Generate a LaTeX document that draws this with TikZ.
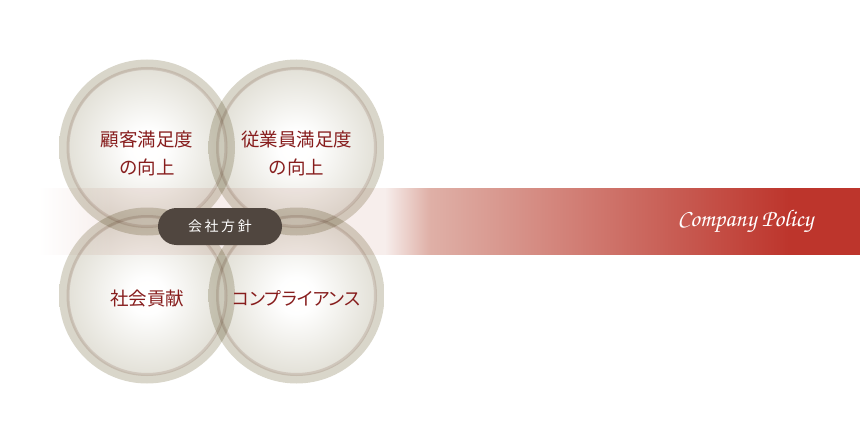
\documentclass[tikz,border=0pt]{standalone}
\usepackage{fontspec}
\newfontfamily\jp{Noto Sans CJK JP}
\newfontfamily\jpprop[RawFeature=+palt]{Noto Sans CJK JP}
\newfontfamily\jpwide[LetterSpace=18]{Noto Sans CJK JP}
\newcommand{\policyfont}{\fontencoding{OT1}\fontfamily{pzc}\fontseries{mb}\fontshape{it}\selectfont}
\definecolor{discband}{HTML}{D9D6CA}
\definecolor{discedge}{HTML}{E3E1D8}
\definecolor{ringcol}{HTML}{E9E1DE}
\definecolor{bandpale}{HTML}{F7EEEC}
\definecolor{bandmid}{HTML}{DFB0A7}
\definecolor{bandred}{HTML}{BD352C}
\definecolor{policytext}{HTML}{871D1D}
\definecolor{pillcol}{HTML}{50463F}
\pgfdeclareradialshading{disc}{\pgfpoint{0bp}{0bp}}{color(0bp)=(white); color(5bp)=(white!98!discedge); color(22.4bp)=(discedge); color(22.5bp)=(discband); color(25bp)=(discband); color(50bp)=(discband)}
\pgfdeclarehorizontalshading{bandshade}{100bp}{color(0bp)=(white); color(25bp)=(white); color(29.4bp)=(bandpale); color(46.1bp)=(bandpale); color(48.8bp)=(bandmid); color(70.7bp)=(bandred); color(100bp)=(bandred)}
\begin{document}
\begin{tikzpicture}[x=1pt,y=-1pt,
    ring/.style={draw=ringcol,line width=3pt,blend mode=multiply},
    circtext/.style={text=policytext,font=\jp\fontsize{18.5}{28}\selectfont,align=center,inner sep=0pt},
    pill/.style={fill=pillcol,text=white,rounded corners=18.5pt,minimum width=124pt,minimum height=37pt,
      font=\jpwide\fontsize{14}{16}\selectfont,inner sep=0pt}]
  \useasboundingbox (0,0) rectangle (860,444);
  % band behind the circles
  \shade[shading=bandshade,blend mode=multiply] (38,188) rectangle (860,254);
  % the four circles
  \foreach \cx/\cy/\name in {147/147.5/kokyaku,296.5/147.5/jugyoin,147/295.5/shakai,296.5/295.5/compliance}{
    \coordinate (\name) at (\cx,\cy);
    \shade[shading=disc,blend mode=multiply] (\name) circle (88);
    \draw[ring] (\name) circle (79);
  }
  \node[circtext,yshift=-5.5pt] (kokyakutext) at (kokyaku) {顧客満足度\\の向上};
  \node[circtext,yshift=-5.5pt] (jugyointext) at (jugyoin) {従業員満足度\\の向上};
  \node[circtext,yshift=-2.5pt] (shakaitext) at (shakai) {社会貢献};
  \node[circtext,font=\jpprop\fontsize{18}{28}\selectfont,yshift=-3pt] (compliancetext) at (compliance) {コンプライアンス};
  \node[pill] (hoshin) at (220,226.5) {会社方針};
  \node[text=white,font=\policyfont\fontsize{24}{26}\selectfont] (policy) at (745.5,222) {Company Policy};
\end{tikzpicture}
\end{document}
